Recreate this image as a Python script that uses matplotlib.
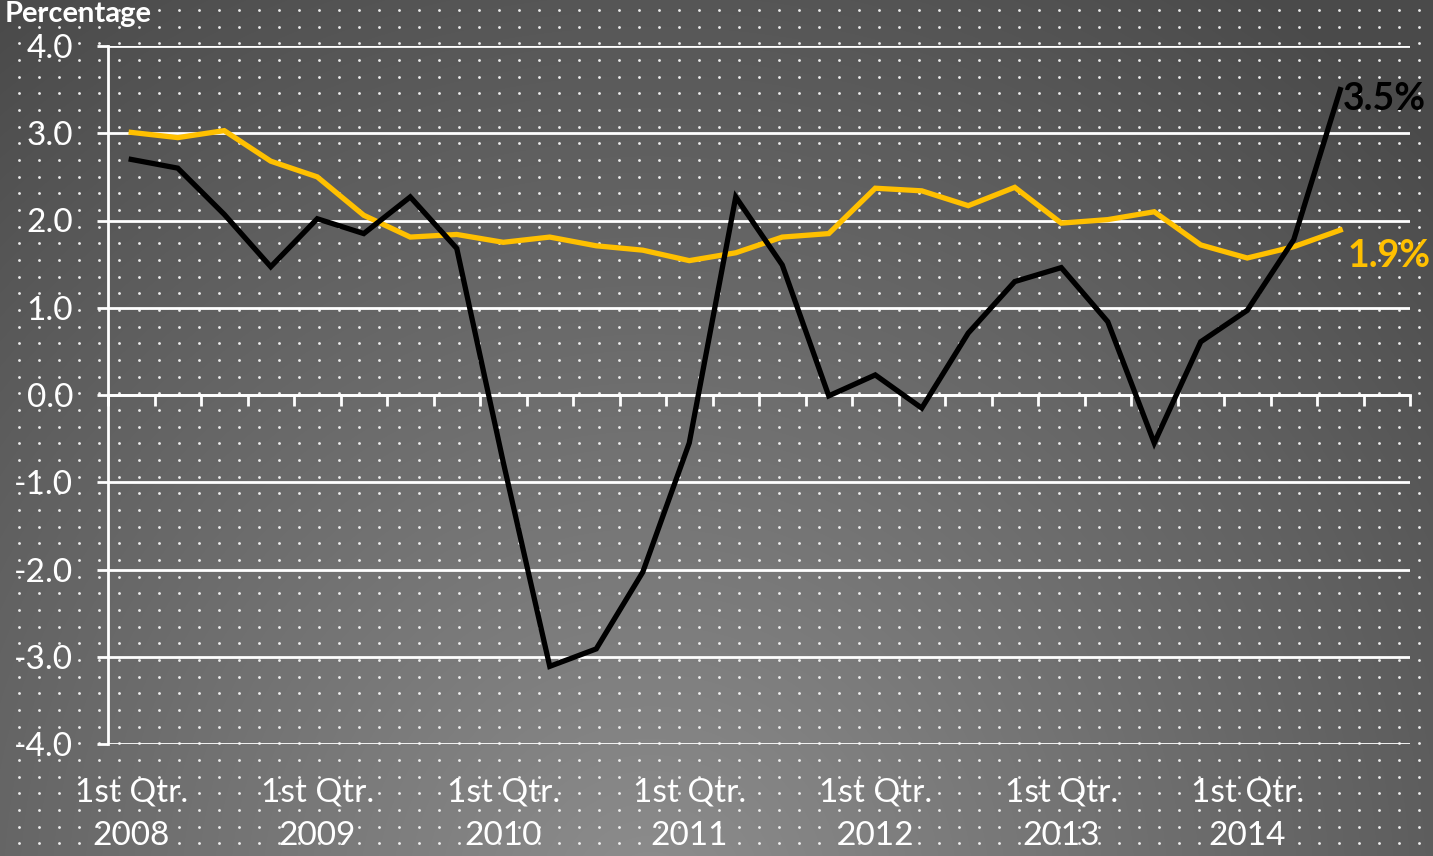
import numpy as np
import matplotlib
matplotlib.use("Agg")
import matplotlib.pyplot as plt
from matplotlib.transforms import blended_transform_factory

plt.rcParams['font.family'] = ['Lato', 'DejaVu Sans']

# quarters 2008 Q1 .. 2014 Q3 (28 category slots on the axis)
n_slots = 28
years = ["2008", "2009", "2010", "2011", "2012", "2013", "2014"]

# black series (quarterly growth)
black_vals = [2.70, 2.60, 2.07, 1.47, 2.02, 1.85, 2.27, 1.68, -0.77, -3.11,
              -2.91, -2.03, -0.55, 2.27, 1.49, -0.01, 0.23, -0.15, 0.71, 1.30,
              1.46, 0.84, -0.55, 0.61, 0.97, 1.78, 3.50]
# gold series (average)
gold_vals = [3.01, 2.95, 3.03, 2.68, 2.50, 2.06, 1.81, 1.84, 1.75, 1.81,
             1.71, 1.66, 1.54, 1.63, 1.81, 1.85, 2.37, 2.34, 2.17, 2.38,
             1.97, 2.01, 2.10, 1.72, 1.57, 1.70, 1.89]
y_ticks = [-4, -3, -2, -1, 0, 1, 2, 3, 4]

W, H = 1433, 856
fig = plt.figure(figsize=(W / 100, H / 100), dpi=100)

# --- background: radial grey gradient + dot pattern ---
bg = fig.add_axes([0, 0, 1, 1], zorder=0)
xx, yy = np.meshgrid(np.arange(W), np.arange(H))
r = np.sqrt((xx - 650) ** 2 + (yy - 900) ** 2) / 1100
shade = (142 - 68 * np.clip(r, 0, 1)) / 255
bg.imshow(np.dstack([shade] * 3), extent=[0, W, H, 0], aspect='auto')
dx, dy = np.meshgrid(np.arange(19, W, 20), np.arange(10, H, 50 / 3))
bg.scatter(dx.ravel(), dy.ravel(), s=4, color='white', alpha=0.9, lw=0)
bg.set_xlim(0, W)
bg.set_ylim(H, 0)
bg.axis('off')

# --- main chart ---
ax = fig.add_axes([108 / W, 112 / H, 1302 / W, 698 / H], zorder=1)
ax.patch.set_alpha(0)

x = np.arange(len(black_vals))
ax.plot(x, gold_vals, color='#FFC000', lw=3.8, solid_joinstyle='miter', zorder=3)
ax.plot(x, black_vals, color='black', lw=3.8, solid_joinstyle='miter', zorder=4)

ax.set_xlim(-0.5, n_slots - 0.5)
ax.set_ylim(-4, 4)

ax.set_yticks(y_ticks)
ax.set_yticklabels([f"{v:.1f}" for v in y_ticks])
ax.yaxis.grid(True, color='white', lw=2)
ax.set_axisbelow(True)
ax.tick_params(axis='y', colors='white', labelsize=24, length=8, width=2, pad=17)

ax.spines['top'].set_visible(False)
ax.spines['right'].set_visible(False)
ax.spines['left'].set_color('white')
ax.spines['left'].set_linewidth(2)
ax.spines['bottom'].set_position(('data', 0))
ax.spines['bottom'].set_color('white')
ax.spines['bottom'].set_linewidth(2)

ax.set_xticks(np.arange(-0.5, n_slots, 1))
ax.set_xticklabels([])
ax.tick_params(axis='x', colors='white', length=8, width=2, direction='out')

# category labels below the plot
tr = blended_transform_factory(ax.transData, fig.transFigure)
for k, yr in enumerate(years):
    ax.text(4 * k, 1 - 793 / H, "1st Qtr.", transform=tr, ha='center', va='center',
            color='white', fontsize=24)
    ax.text(4 * k, 1 - 836 / H, yr, transform=tr, ha='center', va='center',
            color='white', fontsize=24)

# end labels
ax.annotate(f"{black_vals[-1]:.1f}%", (x[-1], black_vals[-1]), xytext=(2, -7),
            textcoords='offset points', ha='left', va='center', color='black',
            fontsize=27, fontweight='bold')
ax.annotate(f"{gold_vals[-1]:.1f}%", (x[-1], gold_vals[-1]), xytext=(5, -19),
            textcoords='offset points', ha='left', va='center', color='#FFC000',
            fontsize=27, fontweight='bold')

fig.text(5 / W, 1 - 14 / H, "Percentage", color='white', fontsize=21,
         fontweight='bold', ha='left', va='center')

fig.savefig("out.png", dpi=100)
